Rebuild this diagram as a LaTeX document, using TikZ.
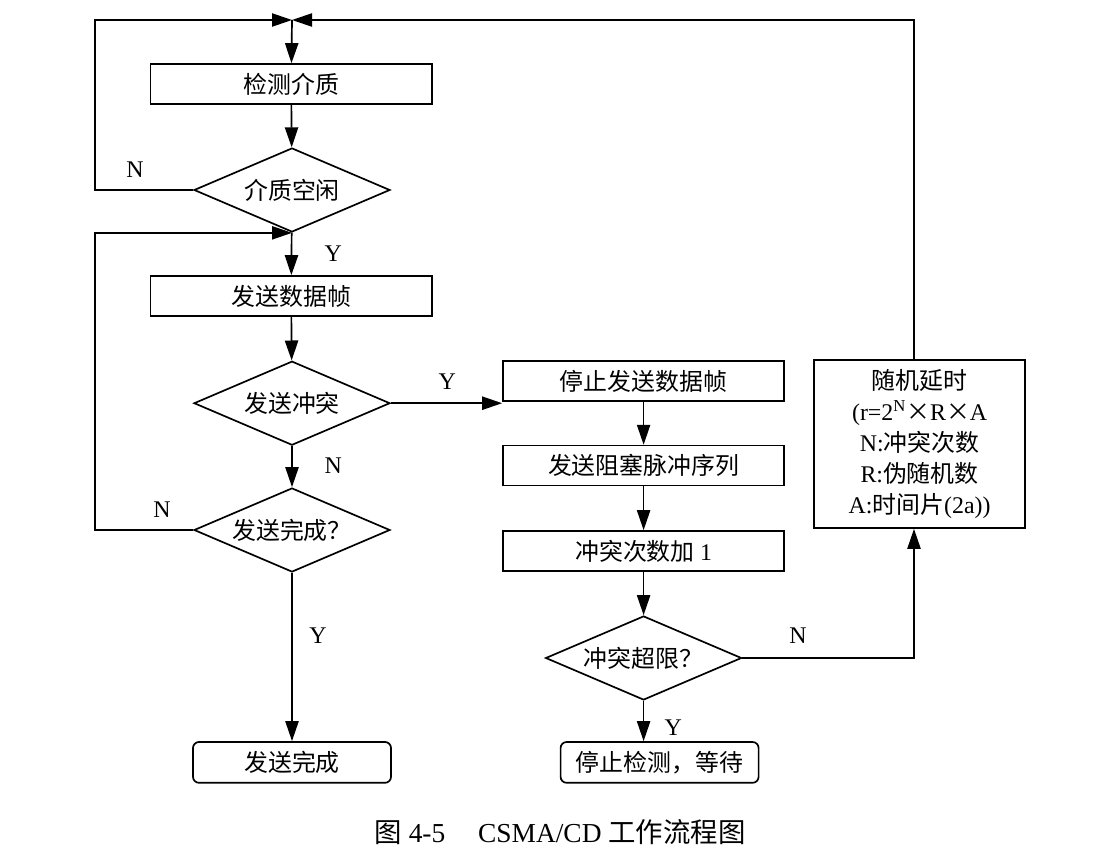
\documentclass[tikz,border=0pt]{standalone}
\usepackage{fontspec}
\setmainfont{Liberation Serif}
\newfontfamily\cjk{Noto Sans CJK SC}
\usetikzlibrary{positioning, arrows.meta, shapes.geometric}

\begin{document}
\begin{tikzpicture}[line width=1.2pt, >={Triangle[length=5mm,width=3.3mm]},
  font=\fontsize{17}{22}\selectfont,
  box/.style={draw, rectangle, minimum width=7.03cm, minimum height=1cm, font=\fontsize{17}{22}\selectfont\cjk},
  decision/.style={draw, diamond, aspect=2.33, minimum width=4.9cm, minimum height=2.1cm, inner sep=0pt, font=\fontsize{17}{22}\selectfont\cjk},
  endbox/.style={draw, rectangle, rounded corners=1.5mm, minimum width=4.95cm, minimum height=1.02cm, font=\fontsize{17}{22}\selectfont\cjk},
  delaybox/.style={draw, rectangle, minimum width=5.28cm, minimum height=4.2cm, align=center},
  lbl/.style={font=\fontsize{17}{22}\selectfont}]
  \useasboundingbox (0,0) rectangle (27.725,-21.65);

  % left column
  \node[box] (jc) at (7.28,-2.1) {检测介质};
  \node[decision] (kx) at (7.3,-4.75) {介质空闲};
  \node[box] (fs) at (7.28,-7.4) {发送数据帧};
  \node[decision] (ct) at (7.3,-10.08) {发送冲突};
  \node[decision] (wc) at (7.3,-13.25) {发送完成？};
  \node[endbox] (ok) at (7.3,-19.06) {发送完成};

  % right column
  \node[box] (tz) at (16.09,-9.525) {停止发送数据帧};
  \node[box] (zs) at (16.09,-11.64) {发送阻塞脉冲序列};
  \node[box] (jy) at (16.09,-13.775) {冲突次数加 \rmfamily 1};
  \node[decision] (cx) at (16.09,-16.45) {冲突超限？};
  \node[endbox] (dd) at (16.49,-19.06) {停止检测，等待};
  \node[delaybox] (ys) at (22.99,-11.1) {{\cjk 随机延时}\\(r=2\textsuperscript{N}{\cjk ×}R{\cjk ×}A\\N:{\cjk 冲突次数}\\R:{\cjk 伪随机数}\\A:{\cjk 时间片}(2a))};

  \coordinate (j1) at (7.3,-0.5);
  \coordinate (lt) at (2.375,-0.5);
  \coordinate (rt) at (22.85,-0.5);

  \draw[->] (kx.west) -- (kx.west -| lt) -- (lt) -- (j1);
  \draw[->] (ys.north -| rt) -- (rt) -- (j1);
  \draw[->] (j1) -- (jc);
  \draw[->] (jc) -- (kx);
  \draw[->] (kx) -- (fs);
  \draw[->] (wc.west) -- (wc.west -| lt) -- (lt |- kx.south) -- (kx.south);
  \draw[->] (fs) -- (ct);
  \draw[->] (ct) -- (wc);
  \draw[->] (wc) -- (ok);
  \draw[->] (ct.east) -- (ct.east -| tz.west);
  \draw[->] (tz) -- (zs);
  \draw[->] (zs) -- (jy);
  \draw[->] (jy) -- (cx);
  \draw[->] (cx) -- (cx.south |- dd.north);
  \draw[->] (cx.east) -- (cx.east -| rt) -- (rt |- ys.south);

  % Y/N
  \node[lbl] (n1) at (3.375,-4.25) {N};
  \node[lbl] (y1) at (8.33,-6.33) {Y};
  \node[lbl] (y2) at (11.18,-9.53) {Y};
  \node[lbl] (n2) at (8.33,-11.65) {N};
  \node[lbl] (n3) at (4.05,-12.75) {N};
  \node[lbl] (y3) at (7.95,-15.9) {Y};
  \node[lbl] (n4) at (19.95,-15.9) {N};
  \node[lbl] (y4) at (16.83,-18.18) {Y};

  \node[font=\fontsize{19.5}{22}\selectfont] (cap) at (14.0,-20.8) {{\cjk 图}~4-5\hspace{1.2em}CSMA/CD {\cjk 工作流程图}};
\end{tikzpicture}
\end{document}
